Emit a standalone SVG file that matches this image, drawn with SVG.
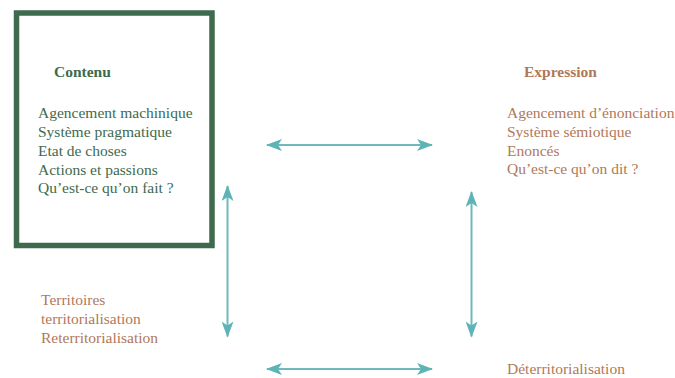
<svg xmlns="http://www.w3.org/2000/svg" width="675" height="378" viewBox="0 0 675 378">
  <style>
    .t { font-family: "Liberation Serif", "Times New Roman", serif; font-size: 15.5px; }
    .h { font-weight: bold; }
    .green { fill: #3e6a4e; }
    .brown { fill: #b0785a; }
    .link { stroke: #6fb9bc; stroke-width: 2; fill: none; marker-start: url(#head); marker-end: url(#head); }
  </style>
  <defs>
    <marker id="head" viewBox="0 0 16 12" refX="15" refY="6" markerWidth="16" markerHeight="12" markerUnits="userSpaceOnUse" orient="auto-start-reverse">
      <path d="M0,0 L16,6 L0,12 L4,6 Z" fill="#5fb3b6"/>
    </marker>
  </defs>

  <rect width="675" height="378" fill="#ffffff"/>

  <!-- Contenu node -->
  <g id="contenu">
    <rect x="16.5" y="13" width="195.5" height="232.5" fill="none" stroke="#3e6a4e" stroke-width="5.5"/>
    <text class="t h green" x="54" y="77">Contenu</text>
    <text class="t green" x="38" y="118">Agencement machinique</text>
    <text class="t green" x="38" y="137">Système pragmatique</text>
    <text class="t green" x="38" y="156">Etat de choses</text>
    <text class="t green" x="38" y="175">Actions et passions</text>
    <text class="t green" x="38" y="193">Qu’est-ce qu’on fait ?</text>
  </g>

  <!-- Expression node -->
  <g id="expression">
    <text class="t h brown" x="524" y="77">Expression</text>
    <text class="t brown" x="507" y="118">Agencement d’énonciation</text>
    <text class="t brown" x="507" y="137">Système sémiotique</text>
    <text class="t brown" x="507" y="156">Enoncés</text>
    <text class="t brown" x="507" y="174">Qu’est-ce qu’on dit ?</text>
  </g>

  <!-- Territoires node -->
  <g id="territoires">
    <text class="t brown" x="41" y="305">Territoires</text>
    <text class="t brown" x="41" y="324">territorialisation</text>
    <text class="t brown" x="41" y="343">Reterritorialisation</text>
  </g>

  <!-- Deterritorialisation node -->
  <g id="deterritorialisation">
    <text class="t brown" x="507" y="374">Déterritorialisation</text>
  </g>

  <!-- Connectors -->
  <g id="connectors">
    <line class="link" x1="267" y1="145" x2="432" y2="145"/>
    <line class="link" x1="267" y1="369" x2="432" y2="369"/>
    <line class="link" x1="227.5" y1="186" x2="227.5" y2="336.5"/>
    <line class="link" x1="471.5" y1="192" x2="471.5" y2="336.5"/>
  </g>
</svg>
